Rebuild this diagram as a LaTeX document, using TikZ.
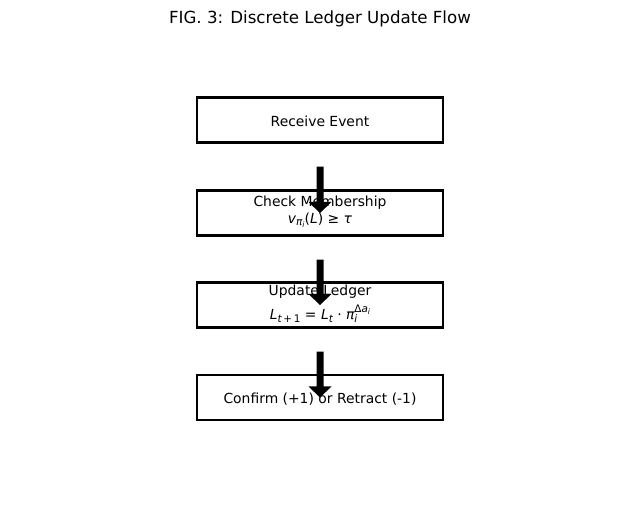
\documentclass[tikz,border=0pt]{standalone}
\usepackage{fontspec}
\setmainfont{DejaVu Sans}
\usetikzlibrary{calc}
\newcommand\mI[1]{{\itshape #1}}
\newcommand\sbA[1]{\raisebox{-0.35ex}{\fontsize{7.5}{8}\selectfont #1}}
\newcommand\sbB[1]{\raisebox{-0.3ex}{\fontsize{5.5}{6}\selectfont #1}}
\newcommand\fatarrow[2]{%
  \fill ($(#1.south)+(-3.5,23)$) -- ($(#2.center)+(-3.5,-11)$) -- ($(#2.center)+(-11.5,-11)$) -- (#2.center)
    -- ($(#2.center)+(11.5,-11)$) -- ($(#2.center)+(3.5,-11)$) -- ($(#1.south)+(3.5,23)$) -- cycle;}
\begin{document}
\begin{tikzpicture}[x=0.72pt,y=-0.72pt,
  box/.style={draw,line width=1.75pt,minimum width=246*0.72pt,minimum height=45*0.72pt,inner sep=0pt},
  lbl/.style={font=\fontsize{10}{12}\selectfont,inner sep=0pt}]
\useasboundingbox (0,0) rectangle (640,523);
\node[font=\fontsize{12}{14}\selectfont,inner sep=0pt] (title) at (320,19) {FIG. 3: Discrete Ledger Update Flow};
\node[box] (b1) at (320,120) {};
\node[box] (b2) at (320,213) {};
\node[box] (b3) at (320,305) {};
\node[box] (b4) at (320,397.5) {};
\node[lbl] (t1) at (320,121) {Receive Event};
\node[lbl] (t2a) at (320,203) {Check Membership};
\node[lbl] (t2b) at (320,220) {\mI{v}\sbA{\mI{π}\sbB{\mI{i}}}(\mI{L}) ≥ \mI{τ}};
\node[lbl] (t3a) at (320,292) {Update Ledger};
\node[lbl] (t3b) at (320,314) {\mI{L}\sbA{\mI{t}\,+\,1} = \mI{L}\sbA{\mI{t}} · \mI{π}\makebox[0pt][l]{\raisebox{-0.45ex}{\fontsize{7.5}{8}\selectfont\mI{i}}}\raisebox{0.9ex}{\fontsize{7.5}{8}\selectfont Δ\mI{a}\sbB{\mI{i}}}};
\node[lbl] (t4) at (320,399) {Confirm (+1) or Retract (-1)};
\fatarrow{b1}{b2}
\fatarrow{b2}{b3}
\fatarrow{b3}{b4}
\end{tikzpicture}
\end{document}
